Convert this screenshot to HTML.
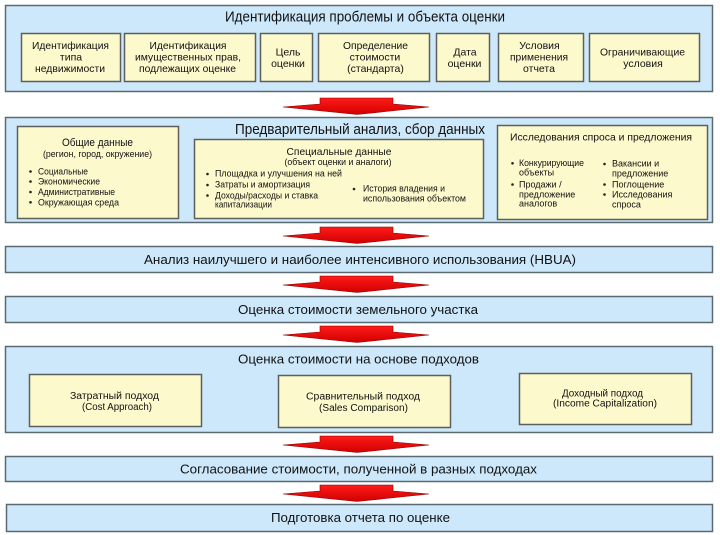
<!DOCTYPE html>
<html><head><meta charset="utf-8"><style>
html,body{margin:0;padding:0;background:#fff;}
svg{display:block;}
text{font-family:"Liberation Sans","DejaVu Sans",sans-serif;fill:#111;}
</style></head><body>
<svg width="720" height="535" viewBox="0 0 720 535" xmlns="http://www.w3.org/2000/svg">
<defs>
<linearGradient id="rg" x1="0" y1="0" x2="0" y2="1">
<stop offset="0" stop-color="#ff1a1a"/><stop offset="1" stop-color="#d00000"/>
</linearGradient>
</defs>
<rect width="720" height="535" fill="#fff"/>

<!-- Panel 1 -->
<rect x="5.5" y="5.5" width="707" height="86" fill="#cde8fa" stroke="#5a6a70" stroke-width="1.5"/>
<text x="365" y="21.5" font-size="15" text-anchor="middle" textLength="280" lengthAdjust="spacingAndGlyphs">Идентификация проблемы и объекта оценки</text>
<g fill="#fcf9cc" stroke="#5e5e5e" stroke-width="1.5">
<rect x="21.5" y="33.5" width="99" height="48"/>
<rect x="124.5" y="33.5" width="131" height="48"/>
<rect x="260.5" y="33.5" width="52" height="48"/>
<rect x="318.5" y="33.5" width="111" height="48"/>
<rect x="436.5" y="33.5" width="53" height="48"/>
<rect x="498.5" y="33.5" width="85" height="48"/>
<rect x="589.5" y="33.5" width="110" height="48"/>
</g>
<g font-size="10.5" text-anchor="middle">
<text x="70.5" y="49" textLength="77" lengthAdjust="spacingAndGlyphs">Идентификация</text>
<text x="71" y="60.5">типа</text>
<text x="70" y="72" textLength="70" lengthAdjust="spacingAndGlyphs">недвижимости</text>
<text x="188" y="49" textLength="77" lengthAdjust="spacingAndGlyphs">Идентификация</text>
<text x="188" y="60.5" textLength="106" lengthAdjust="spacingAndGlyphs">имущественных прав,</text>
<text x="187.5" y="72" textLength="97" lengthAdjust="spacingAndGlyphs">подлежащих оценке</text>
<text x="288" y="55.5">Цель</text>
<text x="288" y="67">оценки</text>
<text x="375.5" y="49" textLength="65" lengthAdjust="spacingAndGlyphs">Определение</text>
<text x="375" y="60.5">стоимости</text>
<text x="375.5" y="72">(стандарта)</text>
<text x="465" y="55.5">Дата</text>
<text x="464.5" y="67">оценки</text>
<text x="539.5" y="49">Условия</text>
<text x="539" y="60.5" textLength="58" lengthAdjust="spacingAndGlyphs">применения</text>
<text x="539" y="72">отчета</text>
<text x="642.5" y="55.5" textLength="85" lengthAdjust="spacingAndGlyphs">Ограничивающие</text>
<text x="643" y="67">условия</text>
</g>

<!-- Arrows -->
<g fill="url(#rg)" stroke="#8a0000" stroke-width="0.6">
<polygon points="320,98 393,98 393,104 429,107 357,114.5 283,107 320,104"/>
<polygon points="320,227 393,227 393,233 429,236 357,243.5 283,236 320,233"/>
<polygon points="320,276 393,276 393,282 429,285 357,292.5 283,285 320,282"/>
<polygon points="320,326 393,326 393,332 429,335 357,342.5 283,335 320,332"/>
<polygon points="320,436 393,436 393,442 429,445 357,452.5 283,445 320,442"/>
<polygon points="320,485 393,485 393,491 429,494 357,501.5 283,494 320,491"/>
</g>

<!-- Panel 2 -->
<rect x="5.5" y="117.5" width="707" height="105" fill="#cde8fa" stroke="#5a6a70" stroke-width="1.5"/>
<g fill="#fcf9cc" stroke="#5e5e5e" stroke-width="1.5">
<rect x="17.5" y="126.5" width="161" height="92"/>
<rect x="194.5" y="139.5" width="289" height="79"/>
<rect x="497.5" y="125.5" width="210" height="94"/>
</g>
<text x="360" y="134" font-size="15" text-anchor="middle" textLength="250" lengthAdjust="spacingAndGlyphs">Предварительный анализ, сбор данных</text>

<text x="97.5" y="146" font-size="11" text-anchor="middle" textLength="71" lengthAdjust="spacingAndGlyphs">Общие данные</text>
<text x="97.5" y="157" font-size="9" text-anchor="middle" textLength="109" lengthAdjust="spacingAndGlyphs">(регион, город, окружение)</text>
<g font-size="9">
<text x="38" y="174.3" textLength="50" lengthAdjust="spacingAndGlyphs">Социальные</text>
<text x="38" y="184.5" textLength="62" lengthAdjust="spacingAndGlyphs">Экономические</text>
<text x="38" y="195" textLength="77" lengthAdjust="spacingAndGlyphs">Административные</text>
<text x="38" y="205.3" textLength="81" lengthAdjust="spacingAndGlyphs">Окружающая среда</text>
</g>
<g fill="#222">
<circle cx="30.5" cy="171.5" r="1.3"/><circle cx="30.5" cy="181.5" r="1.3"/><circle cx="30.5" cy="192" r="1.3"/><circle cx="30.5" cy="202.3" r="1.3"/>
</g>

<text x="339" y="155" font-size="10.5" text-anchor="middle" textLength="105" lengthAdjust="spacingAndGlyphs">Специальные данные</text>
<text x="338" y="165" font-size="9" text-anchor="middle" textLength="107" lengthAdjust="spacingAndGlyphs">(объект оценки и аналоги)</text>
<g font-size="9">
<text x="215" y="176.7" textLength="127" lengthAdjust="spacingAndGlyphs">Площадка и улучшения на ней</text>
<text x="215" y="187.7" textLength="95" lengthAdjust="spacingAndGlyphs">Затраты и амортизация</text>
<text x="215" y="198.3" textLength="103" lengthAdjust="spacingAndGlyphs">Доходы/расходы и ставка</text>
<text x="215" y="207.7" textLength="57" lengthAdjust="spacingAndGlyphs">капитализации</text>
<text x="363" y="191.7" textLength="82" lengthAdjust="spacingAndGlyphs">История владения и</text>
<text x="363" y="201.7" textLength="103" lengthAdjust="spacingAndGlyphs">использования объектом</text>
</g>
<g fill="#222">
<circle cx="207.5" cy="174" r="1.3"/><circle cx="207.5" cy="185" r="1.3"/><circle cx="207.5" cy="195.5" r="1.3"/><circle cx="354" cy="189" r="1.3"/>
</g>

<text x="601" y="140.7" font-size="10" text-anchor="middle" textLength="182" lengthAdjust="spacingAndGlyphs">Исследования спроса и предложения</text>
<g font-size="9">
<text x="519" y="166" textLength="65" lengthAdjust="spacingAndGlyphs">Конкурирующие</text>
<text x="519" y="175.5">объекты</text>
<text x="519" y="187.3">Продажи /</text>
<text x="519" y="197.3">предложение</text>
<text x="519" y="206.7">аналогов</text>
<text x="612" y="166.7">Вакансии и</text>
<text x="612" y="176.7">предложение</text>
<text x="612" y="187.3">Поглощение</text>
<text x="612" y="197.3">Исследования</text>
<text x="612" y="207.3">спроса</text>
</g>
<g fill="#222">
<circle cx="512.5" cy="163.3" r="1.3"/><circle cx="512.5" cy="184.5" r="1.3"/>
<circle cx="604.5" cy="164" r="1.3"/><circle cx="604.5" cy="184.5" r="1.3"/><circle cx="604.5" cy="194.5" r="1.3"/>
</g>

<!-- HBUA -->
<rect x="5.5" y="246.5" width="707" height="26" fill="#cde8fa" stroke="#5a6a70" stroke-width="1.5"/>
<text x="360" y="264" font-size="13" text-anchor="middle" textLength="432" lengthAdjust="spacingAndGlyphs">Анализ наилучшего и наиболее интенсивного использования (HBUA)</text>

<!-- Land -->
<rect x="5.5" y="296.5" width="707" height="26" fill="#cde8fa" stroke="#5a6a70" stroke-width="1.5"/>
<text x="358" y="314" font-size="13" text-anchor="middle" textLength="240" lengthAdjust="spacingAndGlyphs">Оценка стоимости земельного участка</text>

<!-- Approaches -->
<rect x="5.5" y="346.5" width="707" height="86" fill="#cde8fa" stroke="#5a6a70" stroke-width="1.5"/>
<text x="358.5" y="363.5" font-size="13" text-anchor="middle" textLength="241" lengthAdjust="spacingAndGlyphs">Оценка стоимости на основе подходов</text>
<g fill="#fcf9cc" stroke="#5e5e5e" stroke-width="1.5">
<rect x="29.5" y="374.5" width="172" height="52"/>
<rect x="278.5" y="375.5" width="172" height="52"/>
<rect x="519.5" y="373.5" width="172" height="51"/>
</g>
<g font-size="10" text-anchor="middle">
<text x="114.5" y="399" textLength="89" lengthAdjust="spacingAndGlyphs">Затратный подход</text>
<text x="117" y="410" textLength="70" lengthAdjust="spacingAndGlyphs">(Cost Approach)</text>
<text x="363" y="399.5" textLength="114" lengthAdjust="spacingAndGlyphs">Сравнительный подход</text>
<text x="363.5" y="411" textLength="89" lengthAdjust="spacingAndGlyphs">(Sales Comparison)</text>
<text x="602.5" y="396.7" textLength="81" lengthAdjust="spacingAndGlyphs">Доходный подход</text>
<text x="605" y="406.7" textLength="104" lengthAdjust="spacingAndGlyphs">(Income Capitalization)</text>
</g>

<!-- Reconciliation -->
<rect x="5.5" y="456.5" width="707" height="25" fill="#cde8fa" stroke="#5a6a70" stroke-width="1.5"/>
<text x="358.5" y="473.5" font-size="13" text-anchor="middle" textLength="357" lengthAdjust="spacingAndGlyphs">Согласование стоимости, полученной в разных подходах</text>

<!-- Report -->
<rect x="6.5" y="504.5" width="706" height="27" fill="#cde8fa" stroke="#5a6a70" stroke-width="1.5"/>
<text x="360.5" y="522" font-size="13" text-anchor="middle" textLength="179" lengthAdjust="spacingAndGlyphs">Подготовка отчета по оценке</text>
</svg>
</body></html>
